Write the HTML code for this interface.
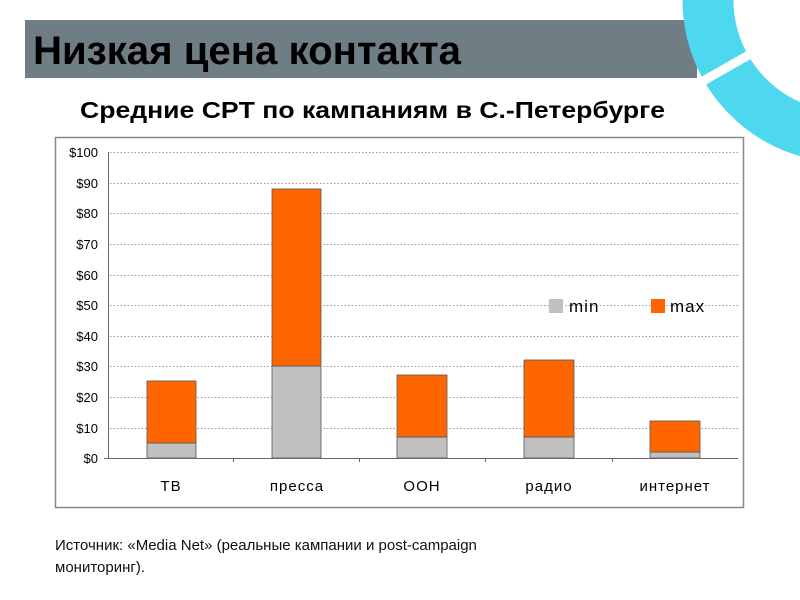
<!DOCTYPE html>
<html><head><meta charset="utf-8"><style>
body{margin:0;width:800px;height:600px;background:#fff;overflow:hidden;position:relative;font-family:"Liberation Sans","DejaVu Sans",sans-serif}
</style></head><body>
<svg width="800" height="600" style="position:absolute;left:0;top:0" font-family="Liberation Sans, DejaVu Sans, sans-serif">
<rect x="25" y="20" width="672" height="58" fill="#6f7d85"/>
<circle cx="845" cy="0" r="137" fill="none" stroke="#4dd8f0" stroke-width="51"/>
<line x1="845" y1="0" x2="640" y2="117" stroke="#fff" stroke-width="9"/>
<text x="33" y="64" font-size="40" font-weight="bold" fill="#000" textLength="428" lengthAdjust="spacingAndGlyphs">Низкая цена контакта</text>
<text x="80" y="118" font-size="23" font-weight="bold" fill="#000" textLength="585" lengthAdjust="spacingAndGlyphs">Средние CPT по кампаниям в С.-Петербурге</text>
<rect x="55.5" y="137.5" width="688" height="370" fill="#fff" stroke="#888" stroke-width="1.5"/>
<g stroke="#999" stroke-dasharray="1.5,2" stroke-width="1">
<line x1="110" x2="738" y1="152.5" y2="152.5"/><line x1="110" x2="738" y1="183.5" y2="183.5"/>
<line x1="110" x2="738" y1="213.5" y2="213.5"/><line x1="110" x2="738" y1="244.5" y2="244.5"/>
<line x1="110" x2="738" y1="275.5" y2="275.5"/><line x1="110" x2="738" y1="305.5" y2="305.5"/>
<line x1="110" x2="738" y1="336.5" y2="336.5"/><line x1="110" x2="738" y1="366.5" y2="366.5"/>
<line x1="110" x2="738" y1="397.5" y2="397.5"/><line x1="110" x2="738" y1="428.5" y2="428.5"/>
</g>
<g font-size="13" fill="#000" text-anchor="end">
<text x="98" y="157">$100</text><text x="98" y="188">$90</text><text x="98" y="218">$80</text>
<text x="98" y="249">$70</text><text x="98" y="280">$60</text><text x="98" y="310">$50</text>
<text x="98" y="341">$40</text><text x="98" y="371">$30</text><text x="98" y="402">$20</text>
<text x="98" y="433">$10</text><text x="98" y="463">$0</text>
</g>
<g stroke="#555" stroke-width="0.8">
<rect x="147" y="443" width="49" height="15" fill="#c0c0c0"/><rect x="147" y="381" width="49" height="62" fill="#ff6600"/>
<rect x="272" y="366" width="49" height="92" fill="#c0c0c0"/><rect x="272" y="189" width="49" height="177" fill="#ff6600"/>
<rect x="397" y="437" width="50" height="21" fill="#c0c0c0"/><rect x="397" y="375" width="50" height="62" fill="#ff6600"/>
<rect x="524" y="437" width="50" height="21" fill="#c0c0c0"/><rect x="524" y="360" width="50" height="77" fill="#ff6600"/>
<rect x="650" y="452" width="50" height="6" fill="#c0c0c0"/><rect x="650" y="421" width="50" height="31" fill="#ff6600"/>
</g>
<line x1="108.5" y1="152" x2="108.5" y2="459" stroke="#666"/>
<line x1="104" y1="458.5" x2="738" y2="458.5" stroke="#666"/>
<g stroke="#666"><line x1="233.5" y1="458" x2="233.5" y2="462"/><line x1="359.5" y1="458" x2="359.5" y2="462"/><line x1="485.5" y1="458" x2="485.5" y2="462"/><line x1="612.5" y1="458" x2="612.5" y2="462"/></g>
<g font-size="15" fill="#000" text-anchor="middle" letter-spacing="1">
<text x="171" y="491">ТВ</text><text x="297" y="491">пресса</text><text x="422" y="491">ООН</text><text x="549" y="491">радио</text><text x="675" y="491">интернет</text>
</g>
<rect x="549" y="299" width="14" height="14" fill="#c0c0c0"/><text x="569" y="312" font-size="17" letter-spacing="1">min</text>
<rect x="651" y="299" width="14" height="14" fill="#ff6600"/><text x="670" y="312" font-size="17" letter-spacing="1">max</text>
<text x="55" y="550" font-size="15" fill="#111">Источник: «Media Net» (реальные кампании и post-campaign</text>
<text x="55" y="572" font-size="15" fill="#111">мониторинг).</text>
</svg>
</body></html>
